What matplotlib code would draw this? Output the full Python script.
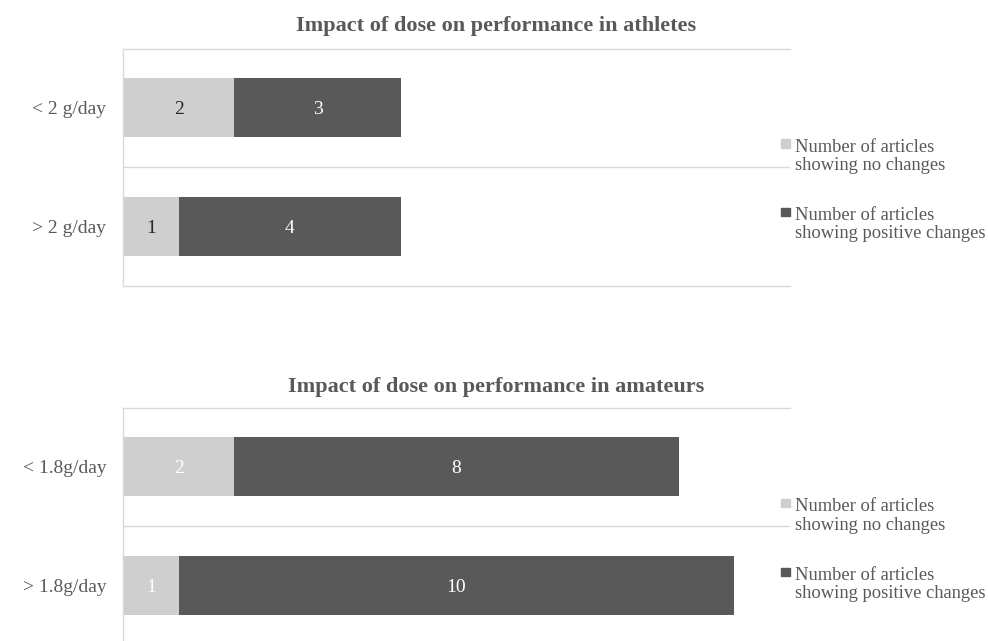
import matplotlib.pyplot as plt
from matplotlib.patches import Rectangle

plt.rcParams['font.family'] = ['Liberation Serif', 'DejaVu Serif']

# data
athlete_doses = ['< 2 g/day', '> 2 g/day']
athlete_no_change = [2, 1]
athlete_positive = [3, 4]

amateur_doses = ['< 1.8g/day', '> 1.8g/day']
amateur_no_change = [2, 1]
amateur_positive = [8, 10]

series_names = ['Number of articles\nshowing no changes',
                'Number of articles\nshowing positive changes']
titles = ['Impact of dose on performance in athletes',
          'Impact of dose on performance in amateurs']

LIGHT = '#d0cfcf'
DARK = '#595959'
GRID = '#d9d9d9'
TEXT = '#595959'
W, H = 988, 641


def fx(px):
    return px / W


def fy(py):
    return 1 - py / H


def draw_panel(ax, doses, no_change, positive, light_label_color):
    y = list(range(len(doses)))
    b1 = ax.barh(y, no_change, height=0.5, color=LIGHT)
    b2 = ax.barh(y, positive, left=no_change, height=0.5, color=DARK)
    labels = ax.bar_label(b1, label_type='center', color=light_label_color, fontsize=14)
    labels += ax.bar_label(b2, label_type='center', color='white', fontsize=14)
    for t in labels:
        t.set_va('center_baseline')
    ax.set_xlim(0, 12)
    ax.set_ylim(1.5, -0.5)
    ax.set_yticks(y)
    ax.set_yticklabels(doses, fontsize=14, color=TEXT)
    ax.tick_params(axis='y', length=0, pad=12)
    ax.set_xticks([])
    for s in ['left', 'top', 'bottom']:
        ax.spines[s].set_color(GRID)
        ax.spines[s].set_linewidth(1)
    ax.spines['right'].set_visible(False)
    ax.axhline(0.5, color=GRID, lw=1)


def draw_legend(fig, baselines):
    # squares beside first line of each label; text placed by its last baseline
    for name, color, base in zip(series_names, [LIGHT, DARK], baselines):
        fig.add_artist(Rectangle((fx(781), fy(base - 3)), fx(9), 8.5 / H,
                                 color=color, transform=fig.transFigure))
        fig.text(fx(795), fy(base + 19.5), name, fontsize=13.3, color=TEXT,
                 va='baseline', ha='left', linespacing=1.15)


fig = plt.figure(figsize=(9.88, 6.41), dpi=100)
ax1 = fig.add_axes([fx(123), fy(285.5), fx(667), 237 / H])
ax2 = fig.add_axes([fx(123), fy(644.5), fx(667), 237 / H])

draw_panel(ax1, athlete_doses, athlete_no_change, athlete_positive, '#262626')
draw_panel(ax2, amateur_doses, amateur_no_change, amateur_positive, 'white')

fig.text(0.502, fy(31), titles[0], fontsize=16, fontweight='bold',
         color=TEXT, ha='center', va='baseline')
fig.text(0.502, fy(392), titles[1], fontsize=16, fontweight='bold',
         color=TEXT, ha='center', va='baseline')

draw_legend(fig, [151, 219])
draw_legend(fig, [510, 579])

fig.savefig('out.png', dpi=100)
